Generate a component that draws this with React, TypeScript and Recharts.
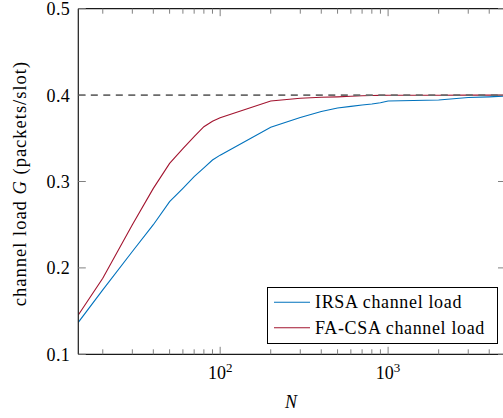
import React from 'react';
import { LineChart, Line, XAxis, YAxis, ReferenceLine, Legend } from 'recharts';

// ---------- data ----------
const N_VALUES = [14.3, 20, 30, 40, 50, 60, 70, 80, 90, 100, 200, 300, 400, 500, 600, 700, 800, 900, 1000, 2000, 3000, 4000, 5000];
const IRSA_LOAD = [0.137, 0.1745, 0.219, 0.25, 0.2766, 0.292, 0.3056, 0.3157, 0.3249, 0.3305, 0.3627, 0.374, 0.381, 0.385, 0.387, 0.3885, 0.3897, 0.3912, 0.3932, 0.3943, 0.3972, 0.398, 0.399];
const FACSA_LOAD = [0.1455, 0.188, 0.25, 0.292, 0.321, 0.338, 0.352, 0.3634, 0.3697, 0.3738, 0.3932, 0.3963, 0.3975, 0.398, 0.3987, 0.3992, 0.3995, 0.3997, 0.3998, 0.3999, 0.4, 0.4, 0.4];
const LIMIT_LOAD = 0.4;

const X_MAJOR_TICKS = [100, 1000];
const X_MINOR_TICKS = [20, 30, 40, 50, 60, 70, 80, 90, 200, 300, 400, 500, 600, 700, 800, 900, 2000, 3000, 4000];
const Y_TICKS = [0.1, 0.2, 0.3, 0.4, 0.5];
const X_DOMAIN: [number, number] = [14.3, 5000];
const Y_DOMAIN: [number, number] = [0.1, 0.5];

const SERIES_NAMES = ['IRSA channel load', 'FA-CSA channel load'];
const X_LABEL = 'N';
const Y_LABEL_PARTS = ['channel load ', 'G', ' (packets/slot)'];

// ---------- styling ----------
const BLUE = '#0072BD';
const RED = '#A2142F';
const TICK_COLOR = '#808080';
const AXIS_COLOR = '#1a1a1a';
const FONT = 'Liberation Serif';
const FS = 18;
const LS = 0.65;
const W = 512;
const H = 418;
const MAJOR_LEN = 7.5;
const MINOR_LEN = 5;
const PLOT_LEFT = 78.3;
const PLOT_RIGHT = 505.5;
const PLOT_TOP = 8.7;
const PLOT_BOTTOM = 354.3;
const AX = 1; // axis box thickness

const chartData = N_VALUES.map((n, i) => ({ n, irsa: IRSA_LOAD[i], facsa: FACSA_LOAD[i] }));
const X_TICKS = [...X_MAJOR_TICKS, ...X_MINOR_TICKS].sort((a, b) => a - b);

const T = (p: any) => {
  const { children, italic, spacing, size, ...rest } = p;
  const fs = size || FS;
  return (
    <text
      {...rest}
      fontFamily={FONT}
      fontSize={fs}
      fontStyle={italic ? 'italic' : 'normal'}
      letterSpacing={spacing || 0}
      fill="#000"
      style={{ fontFamily: FONT, fontSize: fs, fontStyle: italic ? 'italic' : 'normal' }}
    >
      {children}
    </text>
  );
};

const BottomTick = (props: any) => {
  const { x, payload } = props;
  const y = PLOT_BOTTOM;
  const v = payload.value;
  const major = X_MAJOR_TICKS.includes(v);
  const len = major ? MAJOR_LEN : MINOR_LEN;
  const exp = Math.round(Math.log10(v));
  return (
    <g>
      <line x1={x} x2={x} y1={y} y2={y - len} stroke={TICK_COLOR} strokeWidth={1} />
      {major && (
        <T x={x} y={y + 25} textAnchor="middle">
          10<tspan dy={-7.5} fontSize={13} style={{ fontSize: 13 }}>{exp}</tspan>
        </T>
      )}
    </g>
  );
};

const TopTick = (props: any) => {
  const { x, payload } = props;
  const y = PLOT_TOP;
  const major = X_MAJOR_TICKS.includes(payload.value);
  const len = major ? MAJOR_LEN : MINOR_LEN;
  return <line x1={x} x2={x} y1={y} y2={y + len} stroke={TICK_COLOR} strokeWidth={1} />;
};

const LeftTick = (props: any) => {
  const { y, payload } = props;
  const x = PLOT_LEFT;
  return (
    <g>
      <line x1={x} x2={x + MAJOR_LEN} y1={y} y2={y} stroke={TICK_COLOR} strokeWidth={1} />
      <T x={x - 8.3} y={y + 6.5} textAnchor="end" spacing={0.3}>
        {Number(payload.value).toFixed(1)}
      </T>
    </g>
  );
};

const RightTick = (props: any) => {
  const { y } = props;
  const x = PLOT_RIGHT;
  return <line x1={x - MAJOR_LEN} x2={x} y1={y} y2={y} stroke={TICK_COLOR} strokeWidth={1} />;
};

const YLabel = () => {
  const cx = PLOT_LEFT - 52;
  const cy = (PLOT_TOP + PLOT_BOTTOM) / 2 + 2;
  return (
    <T x={cx} y={cy} transform={`rotate(-90, ${cx}, ${cy})`} textAnchor="middle" spacing={1.0} size={18.5}>
      {Y_LABEL_PARTS[0]}
      <tspan fontStyle="italic" style={{ fontStyle: 'italic' }}>{Y_LABEL_PARTS[1]}</tspan>
      {Y_LABEL_PARTS[2]}
    </T>
  );
};

const XLabel = () => (
  <T x={(PLOT_LEFT + PLOT_RIGHT) / 2 - 1} y={PLOT_BOTTOM + 53.7} textAnchor="middle" italic>
    {X_LABEL}
  </T>
);

const LegendBox = (props: any) => {
  const items = (props.payload || [])
    .filter((p: any) => p.type !== 'none')
    .slice()
    .sort((a: any, b: any) => SERIES_NAMES.indexOf(a.value) - SERIES_NAMES.indexOf(b.value));
  return (
    <svg width={231} height={57} style={{ display: 'block' }}>
      <rect x={0.5} y={0.5} width={230} height={56} fill="#fff" stroke="#000" strokeWidth={1} />
      {items.map((it: any, i: number) => {
        const ly = 15.3 + i * 25.4;
        return (
          <g key={i}>
            <line x1={7} x2={43} y1={ly} y2={ly} stroke={it.color} strokeWidth={1.1} />
            <T x={48} y={ly + 6} spacing={LS}>
              {it.value}
            </T>
          </g>
        );
      })}
    </svg>
  );
};

export default function App() {
  return (
    <div style={{ position: 'absolute', left: 0, top: 0, width: 503, height: 418, overflow: 'hidden', background: '#fff', fontFamily: FONT }}>
      <LineChart
        width={W}
        height={H}
        data={chartData}
        margin={{ top: PLOT_TOP - AX, right: W - PLOT_RIGHT - AX, bottom: H - PLOT_BOTTOM - AX, left: PLOT_LEFT - AX }}
      >
        <XAxis
          xAxisId="b"
          dataKey="n"
          type="number"
          scale="log"
          domain={X_DOMAIN}
          allowDataOverflow
          ticks={X_TICKS}
          interval={0}
          height={AX}
          tickSize={0}
          tickMargin={0}
          tickLine={false}
          axisLine={{ stroke: AXIS_COLOR, strokeWidth: 1.2 }}
          tick={BottomTick}
          label={XLabel}
        />
        <XAxis
          xAxisId="t"
          orientation="top"
          dataKey="n"
          type="number"
          scale="log"
          domain={X_DOMAIN}
          allowDataOverflow
          ticks={X_TICKS}
          interval={0}
          height={AX}
          tickSize={0}
          tickMargin={0}
          tickLine={false}
          axisLine={{ stroke: AXIS_COLOR, strokeWidth: 1.2 }}
          tick={TopTick}
        />
        <YAxis
          yAxisId="l"
          type="number"
          domain={Y_DOMAIN}
          allowDataOverflow
          ticks={Y_TICKS}
          interval={0}
          width={AX}
          tickSize={0}
          tickMargin={0}
          tickLine={false}
          axisLine={{ stroke: AXIS_COLOR, strokeWidth: 1.2 }}
          tick={LeftTick}
          label={YLabel}
        />
        <YAxis
          yAxisId="r"
          orientation="right"
          type="number"
          domain={Y_DOMAIN}
          allowDataOverflow
          ticks={Y_TICKS}
          interval={0}
          width={AX}
          tickSize={0}
          tickMargin={0}
          tickLine={false}
          axisLine={{ stroke: AXIS_COLOR, strokeWidth: 1.2 }}
          tick={RightTick}
        />
        <Line
          xAxisId="b"
          yAxisId="l"
          type="linear"
          dataKey="irsa"
          name={SERIES_NAMES[0]}
          stroke={BLUE}
          strokeWidth={1.1}
          dot={false}
          activeDot={false}
          isAnimationActive={false}
        />
        <Line
          xAxisId="b"
          yAxisId="l"
          type="linear"
          dataKey="facsa"
          name={SERIES_NAMES[1]}
          stroke={RED}
          strokeWidth={1.1}
          dot={false}
          activeDot={false}
          isAnimationActive={false}
        />
        <ReferenceLine
          xAxisId="b"
          yAxisId="l"
          y={LIMIT_LOAD}
          stroke="#6a6a6a"
          strokeWidth={1.7}
          strokeDasharray="7 5.5"
        />
        <Legend
          layout="vertical"
          align="center"
          verticalAlign="middle"
          content={LegendBox}
          wrapperStyle={{ position: 'absolute', left: 267, top: 287, width: 231, height: 57 }}
        />
      </LineChart>
    </div>
  );
}
